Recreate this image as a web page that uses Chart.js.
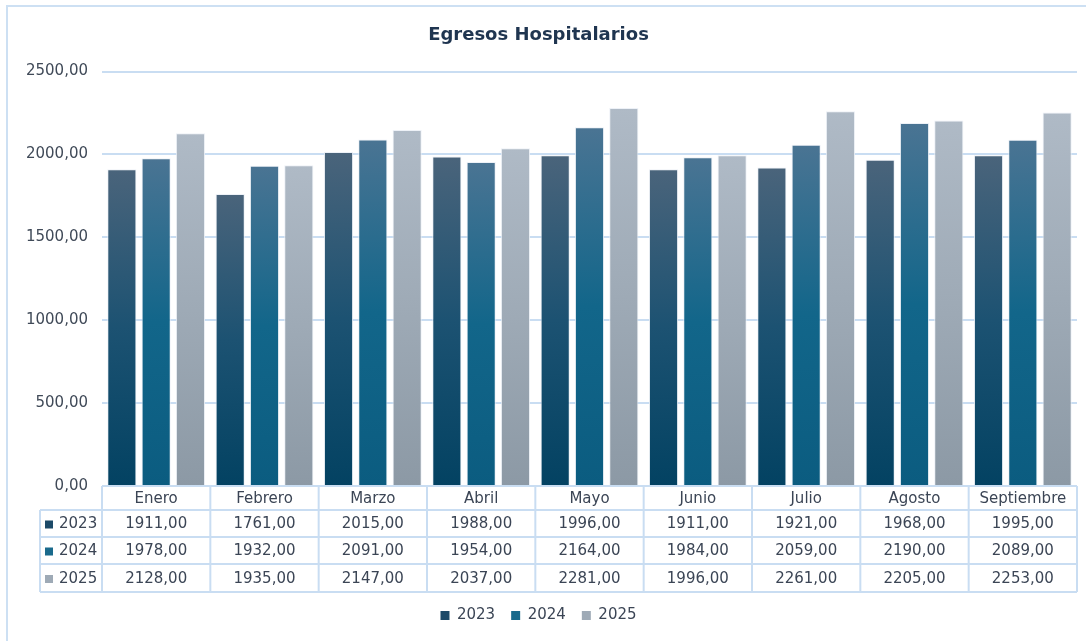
<!DOCTYPE html>
<html>
<head>
<meta charset="utf-8">
<script src="https://cdn.jsdelivr.net/npm/chart.js@4/dist/chart.umd.min.js"></script>
<style>
  body { margin: 0; background: #fff; }
  canvas { display: block; }
</style>
</head>
<body>
<canvas id="egresosChart" width="1086" height="641"></canvas>
<script>
// Data
const categories = ['Enero', 'Febrero', 'Marzo', 'Abril', 'Mayo', 'Junio', 'Julio', 'Agosto', 'Septiembre'];
const seriesLabels = ['2023', '2024', '2025'];
const egresos2023 = [1911, 1761, 2015, 1988, 1996, 1911, 1921, 1968, 1995];
const egresos2024 = [1978, 1932, 2091, 1954, 2164, 1984, 2059, 2190, 2089];
const egresos2025 = [2128, 1935, 2147, 2037, 2281, 1996, 2261, 2205, 2253];
const yMax = 2500;
const yStep = 500;

const FONT = 'DejaVu Sans';
const TEXT = '#3b4555';
const LINE = '#c9ddf2';
const keyColors = ['#1c4a68', '#1a6a8c', '#9eaab6'];

function fmt(v) {
    return v.toFixed(2).replace('.', ',');
}

// vertical gradient per bar, top to base
function barGradient(top, mid, bottom) {
    return function (ctx) {
        const chart = ctx.chart;
        if (!chart.chartArea || ctx.type !== 'data') return bottom;
        const y = chart.scales.y;
        const yTop = y.getPixelForValue(ctx.raw);
        const yBase = y.getPixelForValue(0);
        const g = chart.ctx.createLinearGradient(0, yTop, 0, yBase);
        g.addColorStop(0, top);
        g.addColorStop(0.5, mid);
        g.addColorStop(1, bottom);
        return g;
    };
}

// outer frame
const framePlugin = {
    id: 'frame',
    beforeDraw(chart) {
        const c = chart.ctx;
        c.save();
        c.strokeStyle = '#cde0f3';
        c.lineWidth = 2;
        c.strokeRect(7, 6, 1100, 700);
        c.restore();
    }
};

// data table under the plot
const tablePlugin = {
    id: 'dataTable',
    afterDraw(chart) {
        const c = chart.ctx;
        const area = chart.chartArea;
        const x = chart.scales.x;
        const n = categories.length;
        const colW = (area.right - area.left) / n;
        const keyLeft = 40;
        const rows = [0, 24, 51, 78, 106].map(o => area.bottom + o);

        c.save();
        c.strokeStyle = LINE;
        c.lineWidth = 2;
        c.beginPath();
        c.moveTo(area.left, rows[0]); c.lineTo(area.right, rows[0]);
        for (let r = 1; r < rows.length; r++) {
            c.moveTo(keyLeft, rows[r]); c.lineTo(area.right, rows[r]);
        }
        for (let i = 0; i <= n; i++) {
            const px = area.left + i * colW;
            c.moveTo(px, rows[0]); c.lineTo(px, rows[4]);
        }
        c.moveTo(keyLeft, rows[1]); c.lineTo(keyLeft, rows[4]);
        c.stroke();

        c.fillStyle = TEXT;
        c.font = '15px "' + FONT + '"';
        c.textAlign = 'center';
        c.textBaseline = 'middle';
        categories.forEach((cat, i) => {
            c.fillText(cat, x.getPixelForValue(i), (rows[0] + rows[1]) / 2 + 1);
        });
        chart.data.datasets.forEach((ds, d) => {
            const cy = (rows[d + 1] + rows[d + 2]) / 2 + 1;
            ds.data.forEach((v, i) => {
                c.fillText(fmt(v), x.getPixelForValue(i), cy);
            });
            c.fillStyle = keyColors[d];
            c.fillRect(45, cy - 4, 8, 8);
            c.fillStyle = TEXT;
            c.textAlign = 'left';
            c.fillText(ds.label, 59, cy);
            c.textAlign = 'center';
        });
        c.restore();
    }
};

document.addEventListener('DOMContentLoaded', function () {
    const ctx = document.getElementById('egresosChart').getContext('2d');

    new Chart(ctx, {
        type: 'bar',
        data: {
            labels: categories,
            datasets: [{
                label: seriesLabels[0],
                data: egresos2023,
                backgroundColor: barGradient('#4a647b', '#1c5272', '#034262'),
            }, {
                label: seriesLabels[1],
                data: egresos2024,
                backgroundColor: barGradient('#4a7493', '#12668a', '#0b5c80'),
            }, {
                label: seriesLabels[2],
                data: egresos2025,
                backgroundColor: barGradient('#afbac6', '#9eaab6', '#8c99a5'),
            }]
        },
        options: {
            responsive: false,
            animation: false,
            layout: { padding: { left: 0, right: 9, top: 0, bottom: 8 } },
            datasets: {
                bar: {
                    categoryPercentage: 0.95,
                    barPercentage: 0.85,
                    borderWidth: 1,
                    borderColor: 'rgba(235,240,246,0.9)',
                    borderSkipped: 'bottom'
                }
            },
            plugins: {
                title: {
                    display: true,
                    text: 'Egresos Hospitalarios',
                    color: '#1f3550',
                    font: { family: FONT, size: 18, weight: 'bold' },
                    padding: { top: 25, bottom: 25 }
                },
                legend: {
                    position: 'bottom',
                    labels: {
                        font: { family: FONT, size: 15 },
                        color: TEXT,
                        boxWidth: 9,
                        boxHeight: 9,
                        padding: 16,
                        generateLabels(chart) {
                            return chart.data.datasets.map((ds, i) => ({
                                text: ds.label,
                                fillStyle: keyColors[i],
                                strokeStyle: keyColors[i],
                                lineWidth: 0,
                                fontColor: TEXT,
                                hidden: false,
                                datasetIndex: i
                            }));
                        }
                    }
                },
                tooltip: { enabled: false }
            },
            scales: {
                x: {
                    grid: { display: false },
                    border: { display: false },
                    ticks: { display: false },
                    afterFit(scale) { scale.height = 106; }
                },
                y: {
                    min: 0,
                    max: yMax,
                    ticks: {
                        stepSize: yStep,
                        color: '#404a58',
                        font: { family: FONT, size: 15 },
                        padding: 14,
                        callback: v => fmt(v)
                    },
                    grid: { color: LINE, lineWidth: 2, drawTicks: false },
                    border: { display: false },
                    afterFit(scale) { scale.width = 102; }
                }
            }
        },
        plugins: [framePlugin, tablePlugin]
    });
});
</script>
</body>
</html>
